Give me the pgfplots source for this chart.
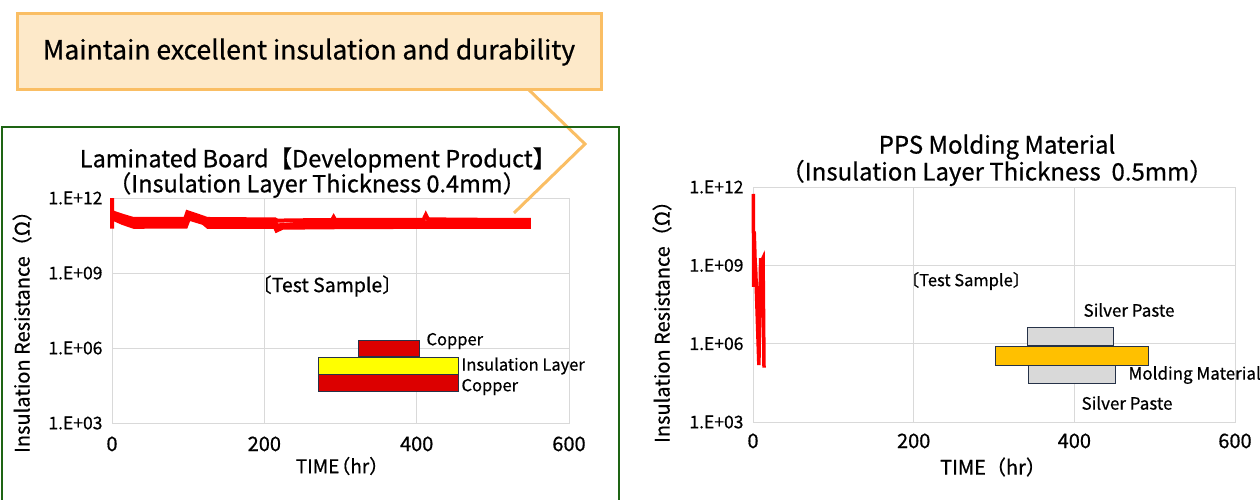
\documentclass[border=0pt]{standalone}
\usepackage{pgfplots}
\pgfplotsset{compat=1.18}
\usepackage{fontspec}
\setmainfont{Noto Sans CJK JP}[FakeBold=0.6]
\definecolor{rd}{RGB}{255,0,0}
\definecolor{cu}{RGB}{220,0,0}
\definecolor{ye}{RGB}{255,255,0}
\definecolor{og}{RGB}{255,192,0}
\definecolor{gy}{RGB}{217,217,217}
\definecolor{edge}{RGB}{38,50,72}
\definecolor{callfill}{RGB}{253,233,201}
\definecolor{callline}{RGB}{250,190,100}
\definecolor{frame}{RGB}{30,100,20}
\definecolor{gridc}{RGB}{217,217,217}
\begin{document}
\begin{tikzpicture}
\useasboundingbox (0,0) rectangle (1260pt,-499pt);
% left axis
\begin{axis}[at={(112pt,-423pt)}, anchor=south west, width=457pt, height=225pt,
    scale only axis, xmin=0, xmax=600, ymode=log, ymin=1e3, ymax=1e12,
    xtick={0,200,400,600}, ytick={1e3,1e6,1e9,1e12},
    yticklabels={1.E+03,1.E+06,1.E+09,1.E+12},
    grid=major, grid style={gridc, line width=0.8pt},
    axis line style={gridc, line width=0.8pt}, tick style={draw=none},
    /pgf/number format/assume math mode=true,
    xticklabel style={font=\fontsize{20}{22}\selectfont, yshift=-10pt},
    yticklabel style={font=\fontsize{17.5}{19}\selectfont, xshift=-6pt},
    clip=false]
\addplot[rd, line width=4pt] coordinates {
(0,1e12) (0,6e10) (0.5,2.7e11) (5,2.4e11) (15,1.9e11) (28,1.45e11) (60,1.45e11) (96,1.45e11) (99,2.7e11) (108,2.2e11) (125,1.45e11) (160,1.42e11) (214,1.4e11) (217,1.25e11) (260,1.3e11) (289,1.32e11) (291,1.7e11) (293,1.32e11) (350,1.32e11) (409,1.35e11) (412,2.1e11) (415,1.4e11) (480,1.35e11) (550,1.35e11)};
\addplot[rd, line width=4pt] coordinates {
(0.5,2.2e11) (10,1.7e11) (28,1.1e11) (60,1.15e11) (97,1.15e11) (100,2.2e11) (115,1.6e11) (125,1.1e11) (170,1.1e11) (214,1.1e11) (217,8e10) (260,1e11) (350,1.05e11) (410,1.05e11) (480,1.05e11) (550,1.05e11)};
\addplot[rd, line width=4pt] coordinates {
(0.5,1.8e11) (12,1.3e11) (28,8.5e10) (31,9e10) (60,8.8e10) (97,8.8e10) (100,1.8e11) (118,1.2e11) (126,8.5e10) (170,8.5e10) (214,8.5e10) (216,6e10) (222,8e10) (300,8.2e10) (410,8.5e10) (480,8.3e10) (550,8.2e10)};
\addplot[rd, line width=4pt] coordinates {
(1,1.5e11) (14,1e11) (29,7e10) (60,7.2e10) (97,7.2e10) (101,1.5e11) (120,1e11) (126,7e10) (214,7e10) (216,5e10) (224,6.5e10) (300,6.8e10) (410,7e10) (550,7e10)};
\end{axis}
% right axis
\begin{axis}[at={(753pt,-422pt)}, anchor=south west, width=482pt, height=235pt,
    scale only axis, xmin=0, xmax=600, ymode=log, ymin=1e3, ymax=1e12,
    xtick={0,200,400,600}, ytick={1e3,1e6,1e9,1e12},
    yticklabels={1.E+03,1.E+06,1.E+09,1.E+12},
    grid=major, grid style={gridc, line width=0.8pt},
    axis line style={gridc, line width=0.8pt}, tick style={draw=none},
    /pgf/number format/assume math mode=true,
    xticklabel style={font=\fontsize{20}{22}\selectfont, yshift=-8pt},
    yticklabel style={font=\fontsize{17.5}{19}\selectfont, xshift=-6pt},
    clip=false]
\addplot[rd, line width=3.5pt] coordinates {
(0.3,5.4e11) (0.6,2e10) (0.9,1.5e8) (1.5,2e10) (2.5,1.8e9) (3.5,5e8) (7.3,1.5e5) (9.5,1.9e9) (10.5,1e7) (11,1.5e9) (12.5,1.9e9) (13.7,1.2e5)};
\end{axis}
\begin{scope}[x=1pt,y=-1pt]
% callout
\draw[callline, line width=3pt] (528,89) -- (585,144) -- (514,213);
\draw[callline, line width=3pt, fill=callfill] (17,13) rectangle (601,89);
\node[font=\fontsize{26.5}{30}\selectfont] at (309,52) {Maintain excellent insulation and durability};
% green frame
\draw[frame, line width=2pt] (2,520) -- (2,127) -- (619,127) -- (619,520);
% left texts
\node[font=\fontsize{23.5}{26}\selectfont] at (318,160) {Laminated Board【Development Product】};
\node[font=\fontsize{23.5}{26}\selectfont] at (317,185) {（Insulation Layer Thickness 0.4mm）};
\node[font=\fontsize{20}{22}\selectfont, rotate=90] at (22,327) {Insulation Resistance（Ω）};
\node[font=\fontsize{19}{20}\selectfont] at (342,466) {TIME\kern-8pt（hr）};
\node[font=\fontsize{19.5}{22}\selectfont] at (327,286) {〔Test Sample〕};
\draw[edge, fill=cu, line width=0.8pt] (358,340) rectangle (419,356);
\draw[edge, fill=ye, line width=0.8pt] (318,357) rectangle (458,374);
\draw[edge, fill=cu, line width=0.8pt] (318,374) rectangle (458,391);
\node[font=\fontsize{16.5}{18}\selectfont, anchor=west] at (423,341) {Copper};
\node[font=\fontsize{16.5}{18}\selectfont, anchor=west] at (458,366) {Insulation Layer};
\node[font=\fontsize{16.5}{18}\selectfont, anchor=west] at (458,387) {Copper};
% right texts
\node[font=\fontsize{24}{26}\selectfont] at (997,147) {PPS Molding Material};
\node[font=\fontsize{24}{26}\selectfont] at (997,173) {（Insulation Layer Thickness\ \ 0.5mm）};
\node[font=\fontsize{20}{22}\selectfont, rotate=90] at (662,317) {Insulation Resistance（Ω）};
\node[font=\fontsize{20}{22}\selectfont] at (993,467) {TIME（hr）};
\node[font=\fontsize{16.5}{18}\selectfont] at (966,281) {〔Test Sample〕};
\draw[edge, fill=gy, line width=0.8pt] (1027,327) rectangle (1113,345);
\draw[edge, fill=gy, line width=0.8pt] (1028,365) rectangle (1115,383);
\draw[edge, fill=og, line width=1pt] (995,346) rectangle (1148,365);
\node[font=\fontsize{17}{18}\selectfont] at (1129,310) {Silver Paste};
\node[font=\fontsize{17}{18}\selectfont, anchor=west] at (1125,375) {Molding Material};
\node[font=\fontsize{17}{18}\selectfont] at (1127,403) {Silver Paste};
\end{scope}
\end{tikzpicture}
\end{document}
